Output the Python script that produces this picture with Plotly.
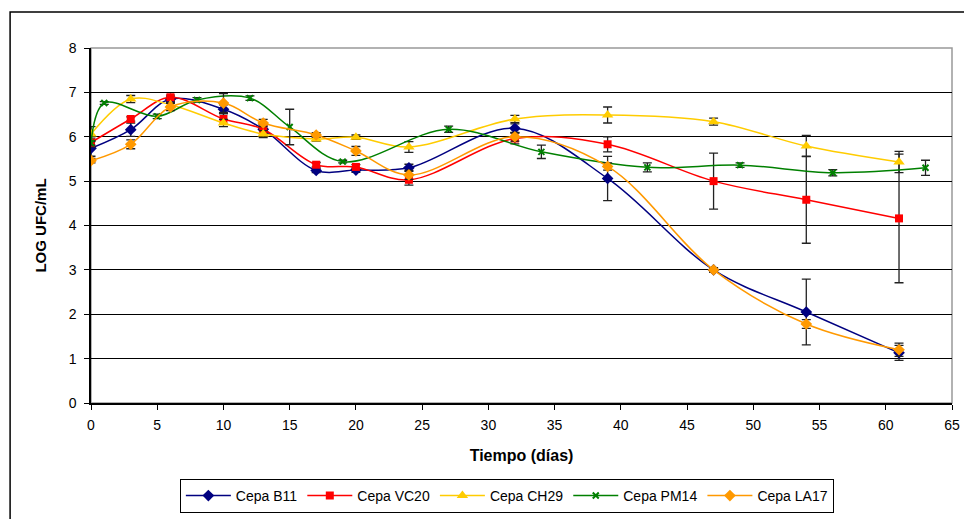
import plotly.graph_objects as go

days = [0, 3, 6, 10, 13, 17, 20, 24, 32, 39, 47, 54, 61]
b11 = [5.74, 6.16, 6.85, 6.62, 6.17, 5.24, 5.25, 5.30, 6.19, 5.06, 3.00, 2.05, 1.13]
b11_err = [0.18, 0.15, 0.05, 0.10, 0.10, 0.05, 0.05, 0.08, 0.10, 0.50, 0.05, 0.74, 0.17]
vc20 = [5.87, 6.40, 6.89, 6.40, 6.17, 5.37, 5.32, 5.03, 5.96, 5.83, 5.00, 4.58, 4.16]
vc20_err = [0.10, 0.05, 0.05, 0.12, 0.10, 0.05, 0.05, 0.12, 0.12, 0.17, 0.63, 0.98, 1.45]
ch29 = [6.06, 6.85, 6.72, 6.31, 6.06, 5.95, 5.99, 5.77, 6.40, 6.49, 6.34, 5.79, 5.43]
ch29_err = [0.17, 0.08, 0.05, 0.08, 0.08, 0.05, 0.05, 0.12, 0.08, 0.18, 0.08, 0.24, 0.24]
pm14_days = [0, 1, 5, 8, 12, 15, 19, 27, 34, 42, 49, 56, 63]
pm14 = [5.86, 6.76, 6.46, 6.83, 6.87, 6.22, 5.44, 6.17, 5.66, 5.31, 5.36, 5.19, 5.30]
pm14_err = [0.05, 0.03, 0.05, 0.05, 0.05, 0.40, 0.03, 0.07, 0.15, 0.10, 0.05, 0.07, 0.17]
la17 = [5.46, 5.83, 6.67, 6.76, 6.31, 6.04, 5.68, 5.14, 6.00, 5.33, 3.00, 1.78, 1.20]
la17_err = [0.05, 0.10, 0.08, 0.21, 0.08, 0.05, 0.10, 0.10, 0.10, 0.08, 0.05, 0.10, 0.15]

series = [
    ("Cepa B11", days, b11, b11_err, "#000080", "diamond", 9),
    ("Cepa VC20", days, vc20, vc20_err, "#FF0000", "square", 8),
    ("Cepa CH29", days, ch29, ch29_err, "#FFCC00", "triangle-up", 10),
    ("Cepa PM14", pm14_days, pm14, pm14_err, "#008000", "x-thin", 6),
    ("Cepa LA17", days, la17, la17_err, "#FF9900", "diamond", 9),
]

fig = go.Figure()
for name, x, y, err, color, sym, size in series:
    marker = dict(symbol=sym, size=size, color=color)
    if sym == "x-thin":
        marker["line"] = dict(color=color, width=2)
    fig.add_trace(go.Scatter(
        x=x, y=y, name=name, mode="lines+markers",
        line=dict(color=color, width=1.5, shape="spline", smoothing=1.0),
        marker=marker,
        error_y=dict(type="data", array=err, visible=True, color="#222222",
                     thickness=1.3, width=4.5),
    ))

# page body has an 8px margin: figure origin sits at (8, 8) on screen
W, H = 964, 511
L, T = 82.5, 40
PW, PH = 862, 355
R = W - L - PW
B = H - T - PH

font = "Liberation Sans, Arial, sans-serif"
fig.update_layout(
    width=W, height=H,
    margin=dict(l=L, r=R, t=T, b=B, autoexpand=False),
    paper_bgcolor="white", plot_bgcolor="white",
    font=dict(family=font, size=14, color="black"),
    showlegend=True,
    legend=dict(orientation="h", x=0.483, xanchor="center", y=-0.214, yanchor="top",
                bordercolor="black", borderwidth=1, font=dict(size=14),
                itemwidth=45, tracegroupgap=0),
    xaxis=dict(range=[0, 65], tick0=0, dtick=5, showgrid=False, zeroline=False,
               showline=True, linecolor="black", linewidth=1.5,
               ticks="outside", ticklen=5, tickcolor="black", automargin=False,
               ticklabelstandoff=3,
               title=dict(text="<b>Tiempo (días)</b>", font=dict(size=16), standoff=18)),
    yaxis=dict(range=[0, 8], tick0=0, dtick=1, showgrid=True, gridcolor="black",
               gridwidth=1, zeroline=False, automargin=False,
               showline=True, linecolor="black", linewidth=1.5,
               ticks="outside", ticklen=5, tickcolor="black",
               ticklabelstandoff=5,
               title=dict(text="<b>LOG UFC/mL</b>", font=dict(size=15), standoff=18)),
    shapes=[
        dict(type="rect", xref="paper", yref="paper", x0=0, x1=1, y0=0, y1=1,
             line=dict(color="#999999", width=1.5), layer="below"),
        dict(type="rect", xref="paper", yref="paper",
             x0=(1.5 - L) / PW, x1=(W + 5 - L) / PW,
             y0=-(B + 5) / PH, y1=1 + (T - 4) / PH,
             line=dict(color="black", width=1.5), layer="below"),
    ],
)

fig.write_html("out.html")
